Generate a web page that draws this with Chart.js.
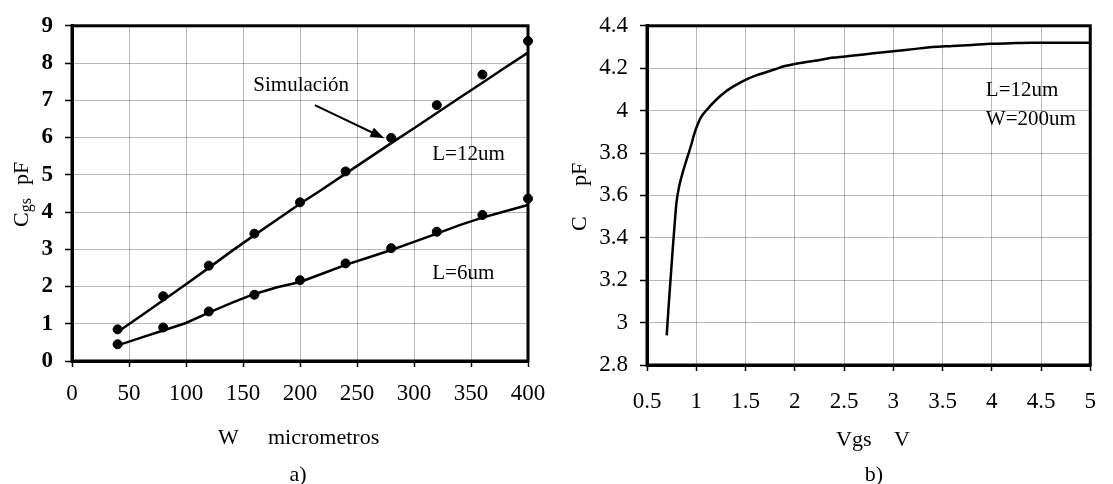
<!DOCTYPE html>
<html>
<head>
<meta charset="utf-8">
<script src="https://cdn.jsdelivr.net/npm/chart.js@4/dist/chart.umd.min.js"></script>
<style>
  html, body { margin: 0; padding: 0; background: #fff; }
  #wrap { position: relative; width: 1113px; height: 484px; overflow: hidden; }
  .pane { position: absolute; top: 0; height: 484px; }
  #paneA { left: 0; width: 560px; }
  #paneB { left: 560px; width: 553px; }
</style>
</head>
<body>
<div id="wrap">
  <div class="pane" id="paneA"><canvas id="chartA" width="560" height="484"></canvas></div>
  <div class="pane" id="paneB"><canvas id="chartB" width="553" height="484"></canvas></div>
</div>
<script>
// ---- a) Cgs versus channel width W ----
const widthTicks = [0, 50, 100, 150, 200, 250, 300, 350, 400];
const cgsTicks = [0, 1, 2, 3, 4, 5, 6, 7, 8, 9];

// measured points (um, pF)
const widthMeasured = [40, 80, 120, 160, 200, 240, 280, 320, 360, 400];
const cgsL12Measured = [0.85, 1.74, 2.56, 3.42, 4.26, 5.09, 5.99, 6.87, 7.69, 8.59];
const cgsL6Measured  = [0.45, 0.90, 1.33, 1.78, 2.17, 2.62, 3.03, 3.47, 3.92, 4.36];

// simulated curves (um, pF)
const widthSim = [40, 60, 80, 100, 120, 140, 160, 180, 200, 220, 240, 260, 280, 300, 320, 340, 360, 380, 400];
const cgsL12Sim = [0.78, 1.20, 1.63, 2.06, 2.50, 2.95, 3.38, 3.80, 4.22, 4.62, 5.03, 5.44, 5.85, 6.25, 6.66, 7.07, 7.47, 7.88, 8.28];
const cgsL6Sim  = [0.42, 0.62, 0.82, 1.02, 1.30, 1.56, 1.80, 1.98, 2.12, 2.35, 2.58, 2.78, 2.98, 3.20, 3.42, 3.65, 3.85, 4.02, 4.19];

// ---- b) C versus Vgs (L=12um, W=200um) ----
const vgsTicks = [0.5, 1, 1.5, 2, 2.5, 3, 3.5, 4, 4.5, 5];
const capTicks = [2.8, 3, 3.2, 3.4, 3.6, 3.8, 4, 4.2, 4.4];
const vgs = [0.70, 0.72, 0.74, 0.76, 0.78, 0.80, 0.83, 0.87, 0.91, 0.95, 0.98, 1.01, 1.05, 1.10, 1.20, 1.30, 1.40, 1.50, 1.60, 1.70, 1.80, 1.90, 2.00, 2.20, 2.40, 2.60, 2.80, 3.00, 3.20, 3.40, 3.60, 3.80, 4.00, 4.20, 4.40, 4.60, 5.00];
const capC = [2.94, 3.08, 3.21, 3.34, 3.46, 3.57, 3.65, 3.72, 3.78, 3.84, 3.89, 3.93, 3.97, 4.00, 4.05, 4.09, 4.12, 4.145, 4.165, 4.18, 4.195, 4.21, 4.22, 4.235, 4.25, 4.26, 4.27, 4.28, 4.29, 4.30, 4.305, 4.31, 4.315, 4.318, 4.32, 4.32, 4.32];

const SERIF = '"Liberation Serif", "Times New Roman", serif';
const toXY = (xs, ys) => xs.map((x, i) => ({ x, y: ys[i] }));
const useTicks = (list) => (scale) => { scale.ticks = list.map(v => ({ value: v })); };

function axis(opts) {
  return {
    type: 'linear',
    min: opts.min, max: opts.max,
    afterBuildTicks: useTicks(opts.ticks),
    afterFit: opts.fit,
    grid: {
      color: 'rgba(0,0,0,0.28)', lineWidth: 1,
      borderDash: [2, 14],
      tickLength: opts.tickLength,
      tickColor: '#000', tickWidth: 1.5, tickBorderDash: []
    },
    border: { color: '#000', width: 3 },
    ticks: {
      color: '#000', padding: opts.padding,
      font: { family: SERIF, size: 23, weight: opts.weight || 'normal' },
      callback: (v) => String(v)
    }
  };
}

// frame around the plotting area
const framePlugin = {
  id: 'frame',
  beforeDatasetsDraw(chart) {
    const a = chart.chartArea, ctx = chart.ctx;
    ctx.save();
    ctx.strokeStyle = '#000';
    ctx.lineWidth = 3;
    ctx.strokeRect(a.left, a.top, a.right - a.left, a.bottom - a.top);
    ctx.restore();
  }
};

function text(ctx, str, x, y, size, align) {
  ctx.font = size + 'px ' + SERIF;
  ctx.textAlign = align || 'left';
  ctx.textBaseline = 'middle';
  ctx.fillStyle = '#000';
  ctx.fillText(str, x, y);
}

const notesA = {
  id: 'notesA',
  afterDraw(chart) {
    const ctx = chart.ctx, sx = chart.scales.x, sy = chart.scales.y;
    const px = (v) => sx.getPixelForValue(v), py = (v) => sy.getPixelForValue(v);
    ctx.save();
    text(ctx, 'Simulación', px(201), py(7.4), 21, 'center');
    text(ctx, 'L=12um', px(316), py(5.55), 21);
    text(ctx, 'L=6um', px(316), py(2.34), 21);

    // arrow from the label to the simulated line
    const x0 = px(213), y0 = py(6.87), x1 = px(274), y1 = py(5.98);
    const ang = Math.atan2(y1 - y0, x1 - x0);
    ctx.strokeStyle = '#000'; ctx.lineWidth = 2;
    ctx.beginPath(); ctx.moveTo(x0, y0);
    ctx.lineTo(x1 - 10 * Math.cos(ang), y1 - 10 * Math.sin(ang)); ctx.stroke();
    ctx.beginPath();
    ctx.moveTo(x1, y1);
    ctx.lineTo(x1 - 14 * Math.cos(ang) + 5 * Math.sin(ang), y1 - 14 * Math.sin(ang) - 5 * Math.cos(ang));
    ctx.lineTo(x1 - 14 * Math.cos(ang) - 5 * Math.sin(ang), y1 - 14 * Math.sin(ang) + 5 * Math.cos(ang));
    ctx.closePath(); ctx.fill();

    // axis titles and caption
    text(ctx, 'W', 218, 438, 22);
    text(ctx, 'micrometros', 268, 438, 22);
    text(ctx, 'a)', 298, 475, 22, 'center');

    ctx.translate(22, 190);
    ctx.rotate(-Math.PI / 2);
    ctx.font = '22px ' + SERIF;
    ctx.textBaseline = 'middle';
    ctx.textAlign = 'left';
    let x = -37;
    ctx.fillText('C', x, 0); x += ctx.measureText('C').width;
    ctx.font = '16px ' + SERIF;
    ctx.fillText('gs', x, 5); x += ctx.measureText('gs').width + 13;
    ctx.font = '22px ' + SERIF;
    ctx.fillText('pF', x, 0);
    ctx.restore();
  }
};

const notesB = {
  id: 'notesB',
  afterDraw(chart) {
    const ctx = chart.ctx, sx = chart.scales.x, sy = chart.scales.y;
    const px = (v) => sx.getPixelForValue(v), py = (v) => sy.getPixelForValue(v);
    const off = 560;
    ctx.save();
    text(ctx, 'L=12um', px(3.94), py(4.096), 21);
    text(ctx, 'W=200um', px(3.94), py(3.96), 21);

    text(ctx, 'Vgs', 836 - off, 440, 22);
    text(ctx, 'V', 894 - off, 440, 22);
    text(ctx, 'b)', 874 - off, 475, 22, 'center');

    ctx.translate(580 - off, 199);
    ctx.rotate(-Math.PI / 2);
    text(ctx, 'C', -32, 0, 22);
    text(ctx, 'pF', 13, 0, 22);
    ctx.restore();
  }
};

const common = {
  responsive: false,
  animation: false,
  plugins: { legend: { display: false }, tooltip: { enabled: false } }
};

new Chart(document.getElementById('chartA'), {
  type: 'scatter',
  data: {
    datasets: [
      { data: toXY(widthSim, cgsL12Sim), showLine: true, borderColor: '#000', borderWidth: 2.5, pointRadius: 0, clip: false },
      { data: toXY(widthSim, cgsL6Sim), showLine: true, borderColor: '#000', borderWidth: 2.5, pointRadius: 0, clip: false },
      { data: toXY(widthMeasured, cgsL12Measured), backgroundColor: '#000', borderColor: '#000', pointRadius: 4.5, clip: false },
      { data: toXY(widthMeasured, cgsL6Measured), backgroundColor: '#000', borderColor: '#000', pointRadius: 4.5, clip: false }
    ]
  },
  options: Object.assign({}, common, {
    layout: { padding: { top: 19, right: 32, bottom: 0, left: 0 } },
    scales: {
      x: axis({ min: 0, max: 400, ticks: widthTicks, tickLength: 6, padding: 13, fit: (s) => { s.height = 123; } }),
      y: axis({ min: 0, max: 9, ticks: cgsTicks, tickLength: 7, padding: 12, weight: 'bold', fit: (s) => { s.width = 72; } })
    }
  }),
  plugins: [framePlugin, notesA]
});

new Chart(document.getElementById('chartB'), {
  type: 'scatter',
  data: {
    datasets: [
      { data: toXY(vgs, capC), showLine: true, borderColor: '#000', borderWidth: 2.5, pointRadius: 0, clip: false, cubicInterpolationMode: 'monotone' }
    ]
  },
  options: Object.assign({}, common, {
    layout: { padding: { top: 20, right: 14, bottom: 0, left: 0 } },
    scales: {
      x: axis({ min: 0.5, max: 5, ticks: vgsTicks, tickLength: 6, padding: 17, fit: (s) => { s.height = 119; } }),
      y: axis({ min: 2.8, max: 4.4, ticks: capTicks, tickLength: 7, padding: 12, fit: (s) => { s.width = 87; } })
    }
  }),
  plugins: [framePlugin, notesB]
});
</script>
</body>
</html>
